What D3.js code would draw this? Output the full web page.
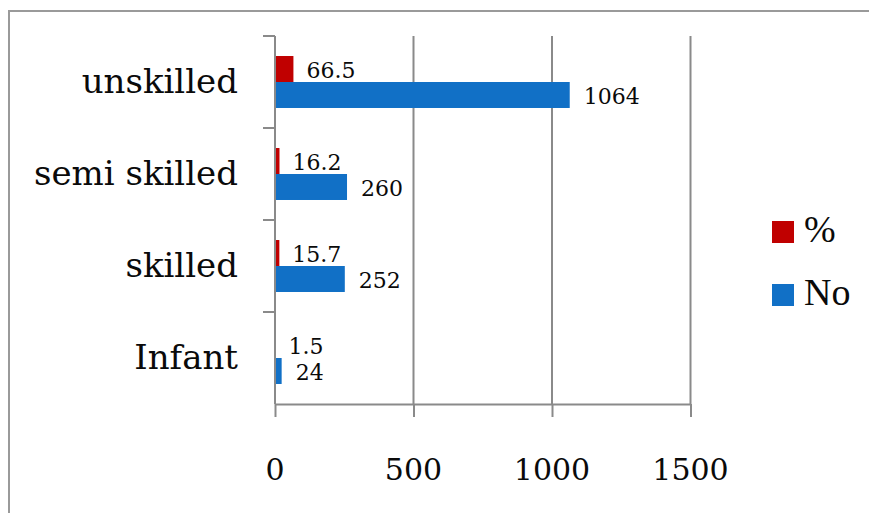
<!DOCTYPE html>
<html>
<head>
<meta charset="utf-8">
<script src="https://cdn.jsdelivr.net/npm/d3@7"></script>
<style>
  body { margin: 0; background: #fff; }
  svg { display: block; }
  .cat { font-family: "DejaVu Serif", serif; font-size: 34px; fill: #0a0a0a; }
  .val { font-family: "DejaVu Serif", serif; font-size: 22px; fill: #0a0a0a; }
  .tick-lbl { font-family: "DejaVu Serif", serif; font-size: 30px; fill: #0a0a0a; }
  .leg { font-family: "Liberation Serif", serif; font-size: 38px; fill: #0a0a0a; }
</style>
</head>
<body>
<div id="chart"></div>
<script>
"use strict";
//categories top to bottom as shown
var categories = ["unskilled", "semi skilled", "skilled", "Infant"];
var pctValues = [66.5, 16.2, 15.7, 1.5];
var noValues = [1064, 260, 252, 24];
var seriesNames = ["%", "No"];
var xTicks = [0, 500, 1000, 1500];

var w = 869,
  h = 513;
var colors = { "%": "#c00000", "No": "#1170c6" };
var gridColor = "#8a8a8a";

var svg = d3
  .select("#chart")
  .append("svg")
  .attr("width", w)
  .attr("height", h);

//outer frame, only left and top edges are inside the picture
svg
  .append("path")
  .attr("d", "M9,520L9,11L880,11")
  .attr("fill", "none")
  .attr("stroke", "#9a9a9a")
  .attr("stroke-width", 2);

var x = d3.scaleLinear().domain([0, 1500]).range([275, 690.5]);
var y = d3.scaleBand().domain(categories).range([36, 404]);
var ySub = d3
  .scaleBand()
  .domain(seriesNames)
  .range([0, y.bandwidth()])
  .paddingOuter(0.77);

//vertical gridlines
svg
  .append("g")
  .selectAll("line")
  .data(xTicks.slice(1))
  .enter()
  .append("line")
  .attr("x1", function(d) { return x(d); })
  .attr("x2", function(d) { return x(d); })
  .attr("y1", 36)
  .attr("y2", 404)
  .attr("stroke", gridColor)
  .attr("stroke-width", 2);

//bars
var rows = categories.map(function(c, i) {
  return [
    { cat: c, s: "%", v: pctValues[i] },
    { cat: c, s: "No", v: noValues[i] }
  ];
});
var flat = [].concat.apply([], rows);

svg
  .append("g")
  .selectAll("rect")
  .data(flat)
  .enter()
  .append("rect")
  .attr("x", x(0))
  .attr("y", function(d) { return y(d.cat) + ySub(d.s); })
  .attr("width", function(d) { return x(d.v) - x(0); })
  .attr("height", ySub.bandwidth())
  .attr("fill", function(d) { return colors[d.s]; });

//value labels
svg
  .append("g")
  .selectAll("text")
  .data(flat)
  .enter()
  .append("text")
  .attr("class", "val")
  .attr("x", function(d) { return x(d.v) + (d.s === "%" ? 13 : 14); })
  .attr("y", function(d) {
    return y(d.cat) + ySub(d.s) + ySub.bandwidth() / 2 + 9;
  })
  .text(function(d) { return d.v; });

//x axis
var xAxis = svg
  .append("g")
  .attr("transform", "translate(0,404)")
  .call(
    d3
      .axisBottom(x)
      .tickValues(xTicks)
      .tickSize(13)
      .tickSizeOuter(0)
      .tickFormat("")
  );
xAxis.select(".domain").attr("stroke", gridColor).attr("stroke-width", 2);
xAxis.selectAll(".tick line").attr("stroke", gridColor).attr("stroke-width", 2);

svg
  .append("g")
  .selectAll("text")
  .data(xTicks)
  .enter()
  .append("text")
  .attr("class", "tick-lbl")
  .attr("text-anchor", "middle")
  .attr("x", function(d) { return x(d); })
  .attr("y", 480)
  .text(function(d) { return d; });

//y axis, ticks sit on band edges
svg
  .append("line")
  .attr("x1", x(0))
  .attr("x2", x(0))
  .attr("y1", 36)
  .attr("y2", 404)
  .attr("stroke", gridColor)
  .attr("stroke-width", 2);

var edges = categories.map(function(c) { return y(c); });
svg
  .append("g")
  .selectAll("line")
  .data(edges)
  .enter()
  .append("line")
  .attr("x1", x(0) - 12)
  .attr("x2", x(0))
  .attr("y1", function(d) { return d; })
  .attr("y2", function(d) { return d; })
  .attr("stroke", gridColor)
  .attr("stroke-width", 2);

svg
  .append("g")
  .selectAll("text")
  .data(categories)
  .enter()
  .append("text")
  .attr("class", "cat")
  .attr("text-anchor", "end")
  .attr("x", 238)
  .attr("y", function(d) { return y(d) + y.bandwidth() / 2 + 11; })
  .text(function(d) { return d; });

//legend
var leg = svg
  .append("g")
  .selectAll("g")
  .data(seriesNames)
  .enter()
  .append("g")
  .attr("transform", function(d, i) {
    return "translate(772," + (221 + i * 63) + ")";
  });

leg
  .append("rect")
  .attr("width", 22)
  .attr("height", 22)
  .attr("fill", function(d) { return colors[d]; });

leg
  .append("text")
  .attr("class", "leg")
  .attr("x", 32)
  .attr("y", 21)
  .text(function(d) { return d; });
</script>
</body>
</html>
